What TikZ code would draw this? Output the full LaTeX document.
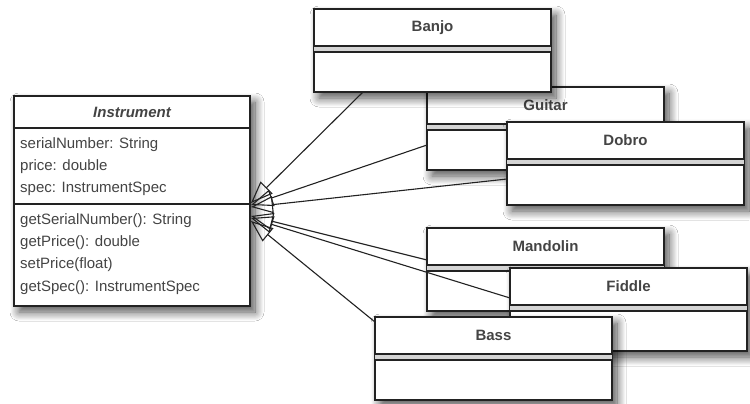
\documentclass[tikz,border=0pt]{standalone}
\usepackage{fontspec}
\setmainfont{Liberation Sans}
\usetikzlibrary{arrows.meta,calc,shadows.blur}
\definecolor{ink}{HTML}{222222}
\definecolor{txt}{HTML}{444444}
\definecolor{band}{HTML}{D4D4D4}
\tikzset{
  cls/.style={draw=ink, line width=1.4pt, fill=white, anchor=north west,
    inner sep=0pt, outer sep=0pt,
    blur shadow={shadow xshift=5pt, shadow yshift=-6pt, shadow blur radius=9pt,
      shadow blur steps=12, shadow opacity=70}},
  sep/.style={draw=ink, line width=1.3pt},
  ttl/.style={text=txt, font=\fontsize{15}{18}\selectfont\bfseries, inner sep=0pt},
  attr/.style={text=txt, font=\fontsize{15}{18}\selectfont, inner sep=0pt, anchor=west},
  gen/.style={draw=ink, line width=1.1pt, -{Triangle[open, length=22pt, width=17pt, line width=1.1pt]}}
}
\newcommand\klass[3]{% name, position, title
  \node[cls, minimum width=237pt, minimum height=83pt] (#1) at (#2) {};
  \fill[band] ($(#1.north west)+(0,37)$) rectangle ($(#1.north east)+(0,43)$);
  \draw[sep] ($(#1.north west)+(0,37)$) -- ($(#1.north east)+(0,37)$);
  \draw[sep] ($(#1.north west)+(0,43)$) -- ($(#1.north east)+(0,43)$);
  \node[ttl] (#1-t) at ($(#1.north)+(0,18.5)$) {#3};
}
\begin{document}
\begin{tikzpicture}[x=1pt,y=-1pt]
  \fill[white] (0,0) rectangle (750,404);
  \useasboundingbox (0,0) rectangle (750,404);

  % Instrument
  \node[cls, minimum width=236pt, minimum height=210pt] (inst) at (14,96) {};
  \draw[sep] ($(inst.north west)+(0,32)$) -- ($(inst.north east)+(0,32)$);
  \draw[sep] ($(inst.north west)+(0,108)$) -- ($(inst.north east)+(0,108)$);
  \node[ttl, font=\fontsize{15}{18}\selectfont\bfseries\itshape] (inst-t) at ($(inst.north)+(0,16)$) {Instrument};
  \node[attr] (a1) at (20,145) {serialNumber: String};
  \node[attr] (a2) at (20,167) {price: double};
  \node[attr] (a3) at (20,189) {spec: InstrumentSpec};
  \node[attr] (m1) at (20,221) {getSerialNumber(): String};
  \node[attr] (m2) at (20,243) {getPrice(): double};
  \node[attr] (m3) at (20,265) {setPrice(float)};
  \node[attr] (m4) at (20,288) {getSpec(): InstrumentSpec};

  % subclasses, back to front
  \klass{guitar}{427,87}{Guitar}
  \klass{banjo}{314,9}{Banjo}
  \klass{dobro}{507,122}{Dobro}
  \klass{mandolin}{427,228}{Mandolin}
  \klass{fiddle}{510,268}{Fiddle}
  \klass{bass}{375,317}{Bass}

  % arrow tips on Instrument's right side
  \coordinate (t1) at (251,203);
  \coordinate (t2) at (251,205);
  \coordinate (t3) at (251,207);
  \coordinate (t4) at (251,216);
  \coordinate (t5) at (251,218);
  \coordinate (t6) at (251,221);

  \draw[gen] ($(banjo.south west)+(49,0)$) -- (t1);
  \draw[gen] ($(guitar.north west)+(0,58)$) -- (t2);
  \draw[gen] ($(dobro.north west)+(0,57)$) -- (t3);
  \draw[gen] ($(mandolin.north west)+(0,32)$) -- (t4);
  \draw[gen] ($(fiddle.north west)+(0,30)$) -- (t5);
  \draw[gen] ($(bass.north west)+(0,5)$) -- (t6);
\end{tikzpicture}
\end{document}
